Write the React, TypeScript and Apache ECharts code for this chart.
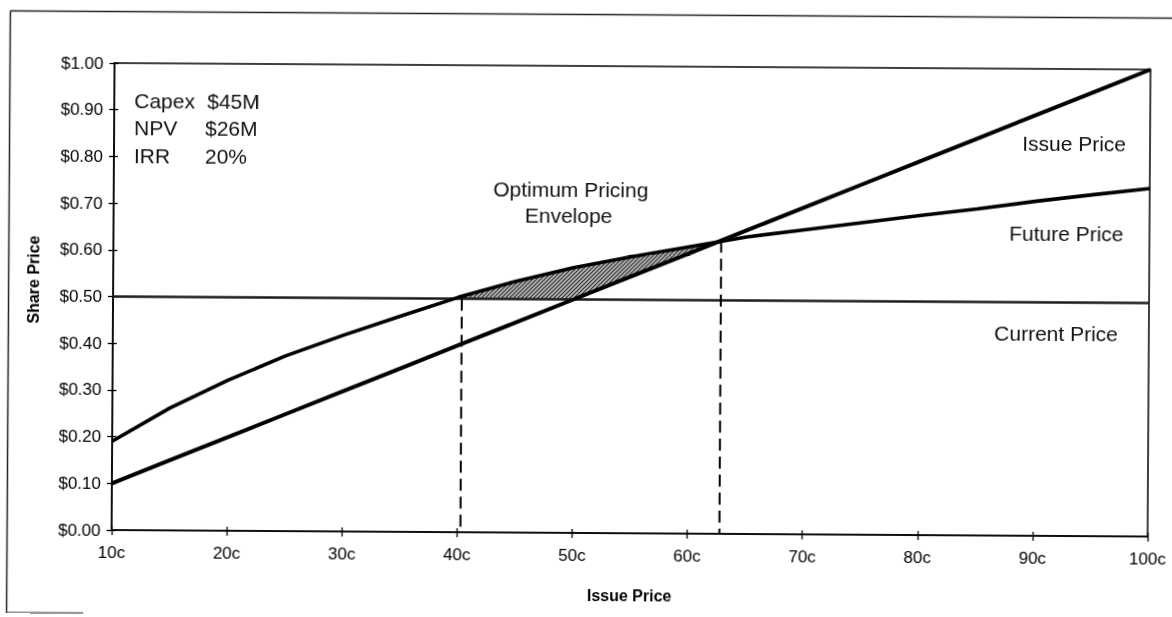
import React, { useEffect, useRef } from "react";
import * as echarts from "echarts";

// Issue price grid (cents) and the three price curves ($ per share)
const issuePrices = [10, 15, 20, 25, 30, 35, 40, 45, 50, 55, 60, 65, 70, 75, 80, 85, 90, 95, 100];
const issueLine = [0.1, 0.15, 0.2, 0.25, 0.3, 0.35, 0.4, 0.45, 0.5, 0.55, 0.6, 0.65, 0.7, 0.75, 0.8, 0.85, 0.9, 0.95, 1.0];
const futureLine = [0.19, 0.262, 0.322, 0.375, 0.42, 0.462, 0.503, 0.538, 0.568, 0.592, 0.614, 0.636, 0.652, 0.668, 0.684, 0.699, 0.716, 0.731, 0.745];
const currentLine = [0.5, 0.5, 0.5, 0.5, 0.5, 0.5, 0.5, 0.5, 0.5, 0.5, 0.5, 0.5, 0.5, 0.5, 0.5, 0.5, 0.5, 0.5, 0.5];

// Drop lines marking the pricing window
const dropX = [40.3, 62.8];
const dropTop = [0.5, 0.628];

const yTicks = { min: 0, max: 1, interval: 0.1 };
const xTicks = { min: 10, max: 100, interval: 10 };

const FONT = '"Liberation Sans", Arial, Helvetica, sans-serif';

// Region where the future price sits above both the issue and current price
function buildEnvelope(): number[][] {
  const upper: number[][] = [];
  const lower: number[][] = [];
  const n = issuePrices.length;
  const low = (i: number) => Math.max(issueLine[i], currentLine[i]);
  for (let i = 0; i < n; i++) {
    const d = futureLine[i] - low(i);
    if (d >= 0) {
      upper.push([issuePrices[i], futureLine[i]]);
      lower.push([issuePrices[i], low(i)]);
    }
    if (i < n - 1) {
      const dn = futureLine[i + 1] - low(i + 1);
      if ((d < 0) !== (dn < 0)) {
        const t = d / (d - dn);
        const x = issuePrices[i] + t * (issuePrices[i + 1] - issuePrices[i]);
        const y = futureLine[i] + t * (futureLine[i + 1] - futureLine[i]);
        upper.push([x, y]);
        lower.push([x, y]);
      }
    }
  }
  return upper.concat(lower.reverse());
}

function hatchPattern() {
  const c = document.createElement("canvas");
  c.width = 4;
  c.height = 4;
  const g = c.getContext("2d")!;
  g.fillStyle = "#bdbdbd";
  g.fillRect(0, 0, 4, 4);
  g.strokeStyle = "#2a2a2a";
  g.lineWidth = 1.2;
  g.beginPath();
  g.moveTo(0, 4);
  g.lineTo(4, 0);
  g.moveTo(-1, 1);
  g.lineTo(1, -1);
  g.moveTo(3, 5);
  g.lineTo(5, 3);
  g.stroke();
  return { image: c, repeat: "repeat" };
}

const pair = (ys: number[]) => issuePrices.map((x, i) => [x, ys[i]]);

export default function App() {
  const ref = useRef<HTMLDivElement>(null);

  useEffect(() => {
    if (!ref.current) return;
    const chart = echarts.init(ref.current, undefined, { renderer: "svg" });
    const envelope = buildEnvelope();

    const axisLine = { show: true, onZero: false, lineStyle: { color: "#000", width: 1.5 } };
    const tickStyle = { color: "#000", width: 1.3 };

    const noteStyle = (text: string, x: number, y: number, align = "left") => ({
      type: "text",
      x,
      y,
      style: {
        text,
        fontSize: 21,
        fontFamily: FONT,
        fill: "#111",
        textAlign: align,
        textVerticalAlign: "middle",
      },
    });

    chart.setOption({
      animation: false,
      backgroundColor: "#fff",
      grid: {
        left: 113,
        right: 23,
        top: 66,
        bottom: 84,
        show: true,
        borderColor: "#000",
        borderWidth: 1.5,
        backgroundColor: "transparent",
      },
      xAxis: [
        {
          type: "value",
          ...xTicks,
          position: "bottom",
          axisLine,
          axisTick: { show: true, inside: false, length: 5, lineStyle: tickStyle },
          axisLabel: {
            formatter: (v: number) => `${v}c`,
            color: "#000",
            fontSize: 17,
            fontFamily: FONT,
            margin: 14,
          },
          splitLine: { show: false },
          name: "Issue Price",
          nameLocation: "middle",
          nameGap: 54,
          nameTextStyle: { color: "#000", fontWeight: "bold", fontSize: 16, fontFamily: FONT },
        },
        {
          type: "value",
          ...xTicks,
          position: "bottom",
          axisLine: { show: false },
          axisTick: { show: true, inside: true, length: 4, lineStyle: tickStyle },
          axisLabel: { show: false },
          splitLine: { show: false },
        },
      ],
      yAxis: [
        {
          type: "value",
          ...yTicks,
          position: "left",
          axisLine,
          axisTick: { show: true, inside: false, length: 5, lineStyle: tickStyle },
          axisLabel: {
            formatter: (v: number) => `$${v.toFixed(2)}`,
            color: "#000",
            fontSize: 17,
            fontFamily: FONT,
            margin: 11,
          },
          splitLine: { show: false },
        },
        {
          type: "value",
          ...yTicks,
          position: "left",
          axisLine: { show: false },
          axisTick: { show: true, inside: true, length: 4, lineStyle: tickStyle },
          axisLabel: { show: false },
          splitLine: { show: false },
        },
      ],
      graphic: [
        { type: "line", shape: { x1: 8.5, y1: 14.5, x2: 1190, y2: 14.5 }, style: { stroke: "#222", lineWidth: 1.5 } },
        { type: "line", shape: { x1: 8.5, y1: 14.5, x2: 8.5, y2: 640 }, style: { stroke: "#222", lineWidth: 1.5 } },
        { type: "line", shape: { x1: 8.5, y1: 616, x2: 85, y2: 616 }, style: { stroke: "#777", lineWidth: 1.5 } },
        noteStyle("Capex", 133, 103),
        noteStyle("$45M", 206, 103),
        noteStyle("NPV", 133, 130),
        noteStyle("$26M", 204, 130),
        noteStyle("IRR", 133, 158),
        noteStyle("20%", 204, 158),
        noteStyle("Optimum Pricing", 570, 189, "center"),
        noteStyle("Envelope", 568, 215, "center"),
        noteStyle("Issue Price", 1125, 140, "right"),
        noteStyle("Future Price", 1123, 230, "right"),
        noteStyle("Current Price", 1118, 330, "right"),
        {
          type: "text",
          x: 33,
          y: 283,
          rotation: Math.PI / 2,
          style: {
            text: "Share Price",
            fontSize: 16,
            fontWeight: "bold",
            fontFamily: FONT,
            fill: "#000",
            textAlign: "center",
            textVerticalAlign: "middle",
          },
        },
      ],
      series: [
        {
          type: "custom",
          name: "Optimum Pricing Envelope",
          coordinateSystem: "cartesian2d",
          data: [[0]],
          z: 1,
          renderItem: (_p: any, api: any) => ({
            type: "polygon",
            shape: { points: envelope.map((pt) => api.coord(pt)) },
            style: { fill: hatchPattern(), stroke: "none" },
          }),
        },
        {
          type: "line",
          name: "Current Price",
          data: pair(currentLine),
          symbol: "none",
          z: 2,
          lineStyle: { color: "#1a1a1a", width: 2.6 },
        },
        {
          type: "line",
          name: "Future Price",
          data: pair(futureLine),
          symbol: "none",
          z: 3,
          lineStyle: { color: "#000", width: 3.6 },
        },
        {
          type: "line",
          name: "Issue Price",
          data: pair(issueLine),
          symbol: "none",
          z: 4,
          lineStyle: { color: "#000", width: 4 },
        },
        ...dropX.map((x, i) => ({
          type: "line",
          name: `Drop ${i + 1}`,
          data: [
            [x, dropTop[i]],
            [x, 0],
          ],
          symbol: "none",
          z: 2,
          lineStyle: { color: "#000", width: 2, type: [12, 6] },
        })),
      ],
    });

    return () => chart.dispose();
  }, []);

  return (
    <div
      ref={ref}
      style={{
        position: "fixed",
        left: 0,
        top: 0,
        width: 1172,
        height: 617,
        background: "#fff",
        transform: "rotate(0.36deg)",
        transformOrigin: "586px 308px",
      }}
    />
  );
}
